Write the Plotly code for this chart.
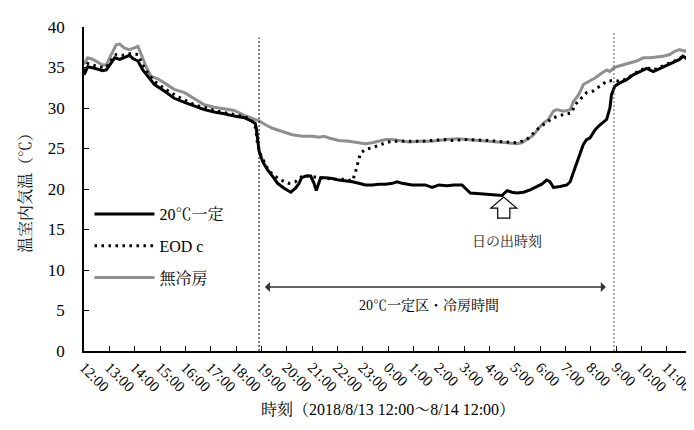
import plotly.graph_objects as go

# ---- data (elapsed hours from 2018/8/13 12:00, temperature °C) ----
tick_labels = ["12:00", "13:00", "14:00", "15:00", "16:00", "17:00", "18:00", "19:00",
               "20:00", "21:00", "22:00", "23:00", "0:00", "1:00", "2:00", "3:00",
               "4:00", "5:00", "6:00", "7:00", "8:00", "9:00", "10:00", "11:00"]

const_h = [0.0, 0.15, 0.42, 0.74, 0.88, 1.07, 1.21, 1.41, 1.6, 1.8, 1.93, 2.13, 2.32, 2.52, 2.78,
           3.17, 3.56, 3.97, 4.36, 4.75, 5.14, 5.54, 5.93, 6.33, 6.66, 6.76, 6.80, 6.85, 6.91,
           7.05, 7.24, 7.44, 7.64, 7.90, 8.16, 8.35, 8.49, 8.59, 8.76, 8.95, 9.08, 9.17, 9.28,
           9.34, 9.54, 9.80, 10.06, 10.33, 10.59, 10.85, 11.11, 11.38, 11.64, 11.90, 12.17,
           12.36, 12.56, 12.95, 13.21, 13.47, 13.74, 14.01, 14.33, 14.59, 14.92, 15.05, 15.25,
           15.64, 16.03, 16.50, 16.70, 16.89, 17.09, 17.35, 17.61, 17.87, 18.07, 18.26, 18.39,
           18.53, 18.80, 19.06, 19.19, 19.38, 19.58, 19.71, 19.84, 19.97, 20.17, 20.36, 20.63,
           20.76, 20.82, 20.95, 21.15, 21.42, 21.68, 21.94, 22.21, 22.47, 22.73, 22.99, 23.25,
           23.51, 23.64, 23.84, 23.98]
const_t = [34.1, 35.1, 34.9, 34.6, 34.7, 35.6, 36.2, 36.0, 36.2, 36.5, 36.1, 35.8, 34.7, 33.9, 32.9,
           32.1, 31.2, 30.7, 30.2, 29.8, 29.5, 29.3, 29.0, 28.8, 28.3, 28.1, 27.5, 25.9, 24.7,
           23.4, 22.4, 21.6, 20.7, 20.1, 19.6, 20.1, 20.7, 21.4, 21.6, 21.6, 20.7, 19.8, 20.9,
           21.4, 21.4, 21.3, 21.1, 21.0, 20.9, 20.7, 20.5, 20.5, 20.6, 20.6, 20.7,
           20.9, 20.7, 20.5, 20.5, 20.5, 20.2, 20.5, 20.4, 20.5, 20.5, 20.1, 19.5,
           19.4, 19.3, 19.2, 19.8, 19.6, 19.5, 19.6, 19.9, 20.3, 20.6, 21.1, 20.9,
           20.2, 20.3, 20.5, 20.9, 22.6, 24.4, 25.5, 26.1, 26.3, 27.3, 27.9, 28.6,
           30.0, 31.6, 32.7, 33.1, 33.5, 34.1, 34.5, 34.9, 34.5, 34.9, 35.3, 35.6,
           36.0, 36.4, 36.0, 36.1]

eod_h = [0.0, 0.15, 0.55, 0.87, 1.07, 1.27, 1.5, 1.8, 2.13, 2.32, 2.52, 2.78, 3.17, 3.7, 4.36,
         5.27, 5.93, 6.33, 6.59, 6.78, 6.85, 6.98, 7.11, 7.24, 7.44, 7.77, 8.09, 8.35, 8.62,
         8.89, 9.28, 9.54, 9.93, 10.33, 10.59, 10.69, 10.74, 10.80, 10.85, 10.91, 11.11, 11.38,
         11.64, 11.90, 12.17, 12.56, 12.95, 13.34, 13.74, 14.27, 14.53, 15.12, 15.90, 16.70,
         17.09, 17.48, 17.87, 18.20, 18.53, 18.93, 19.25, 19.38, 19.58, 19.84, 20.10, 20.36,
         20.63, 20.89, 21.15, 21.42, 21.68, 21.94, 22.21, 22.47, 22.73, 22.99, 23.25, 23.51,
         23.64, 23.84, 23.98]
eod_t = [34.6, 35.5, 35.1, 35.0, 35.9, 36.6, 36.5, 36.7, 36.6, 35.3, 34.3, 33.3, 32.4, 31.4, 30.4,
         29.6, 29.2, 28.9, 28.6, 27.5, 25.5, 24.2, 23.4, 22.6, 21.8, 21.1, 20.7, 20.9, 21.6,
         21.6, 21.4, 21.3, 21.2, 21.2, 21.0, 21.8, 22.4, 23.2, 23.8, 24.4, 24.9, 25.1,
         25.4, 25.7, 25.9, 25.9, 25.9, 25.9, 26.0, 26.1, 26.0, 26.1, 26.0, 25.8,
         25.7, 26.1, 27.3, 28.1, 28.8, 29.2, 29.4, 30.4, 31.0, 31.9, 32.1, 32.7,
         33.3, 33.4, 33.3, 33.6, 34.2, 34.6, 35.0, 34.7, 35.0, 35.4, 35.7, 36.1,
         36.4, 36.1, 36.0]

nocool_h = [0.0, 0.15, 0.35, 0.55, 0.74, 0.87, 1.07, 1.27, 1.41, 1.6, 1.8, 1.99, 2.13, 2.26, 2.45,
            2.65, 2.91, 3.17, 3.56, 3.97, 4.36, 4.75, 5.14, 5.54, 5.93, 6.33, 6.71, 6.91, 7.18,
            7.44, 7.83, 8.22, 8.62, 9.02, 9.28, 9.48, 9.67, 10.06, 10.46, 10.85, 11.11, 11.38,
            11.64, 11.90, 12.17, 12.43, 12.82, 13.21, 13.74, 14.33, 14.72, 15.12, 15.51, 15.90,
            16.29, 16.70, 17.09, 17.28, 17.48, 17.68, 17.81, 17.94, 18.13, 18.33, 18.53, 18.66,
            18.93, 19.19, 19.32, 19.52, 19.71, 19.97, 20.17, 20.43, 20.63, 20.76, 20.89, 21.02,
            21.28, 21.55, 21.81, 22.08, 22.34, 22.60, 22.86, 23.12, 23.32, 23.51, 23.71, 23.91,
            23.98]
nocool_t = [35.4, 36.2, 36.0, 35.6, 35.3, 35.3, 36.6, 37.8, 37.9, 37.4, 37.2, 37.4, 37.6, 36.6, 35.1,
            33.9, 33.6, 33.1, 32.3, 31.9, 31.2, 30.4, 30.1, 29.9, 29.7, 29.1, 28.6, 28.4, 27.9,
            27.5, 27.1, 26.7, 26.5, 26.5, 26.4, 26.5, 26.3, 26.0, 25.9, 25.7, 25.6, 25.7,
            25.9, 26.1, 26.1, 26.0, 25.8, 25.9, 25.9, 26.1, 26.2, 26.1, 26.0, 25.9,
            25.8, 25.7, 25.6, 25.7, 26.1, 26.5, 26.9, 27.5, 28.1, 28.6, 29.6, 29.8,
            29.6, 29.8, 30.8, 31.6, 32.9, 33.3, 33.7, 34.3, 34.7, 34.5, 34.9, 35.1,
            35.3, 35.6, 35.8, 36.2, 36.2, 36.3, 36.4, 36.6, 37.0, 37.2, 37.0, 37.4,
            36.9]

series_names = ["20℃一定", "EOD c", "無冷房"]

# ---- styling ----
FONT = "Liberation Serif, Noto Serif CJK JP, Noto Sans CJK JP, serif"

fig = go.Figure()
fig.add_trace(go.Scatter(x=nocool_h, y=nocool_t, mode="lines", name=series_names[2],
                         line=dict(color="#8f8f8f", width=3), legendgroup="c", legendrank=3))
fig.add_trace(go.Scatter(x=eod_h, y=eod_t, mode="lines", name=series_names[1],
                         line=dict(color="black", width=3, dash="2.5px,4.5px"), legendgroup="b", legendrank=2))
fig.add_trace(go.Scatter(x=const_h, y=const_t, mode="lines", name=series_names[0],
                         line=dict(color="black", width=3), legendgroup="a", legendrank=1))

# vertical dashed lines (cooling period boundaries)
cool_start, cool_end = 6.91, 20.92
fig.add_shape(type="line", xref="x", yref="y", x0=cool_start, x1=cool_start, y0=0, y1=38.7,
              line=dict(color="black", width=1, dash="2px,2px"))
fig.add_shape(type="line", xref="x", yref="y", x0=cool_end, x1=cool_end, y0=0, y1=39.3,
              line=dict(color="#555555", width=1, dash="2px,2px"))

# double-headed arrow
arrow_y = 7.9
fig.add_annotation(x=7.14, y=arrow_y, ax=20.66, ay=arrow_y, xref="x", yref="y", axref="x", ayref="y",
                   text="", showarrow=True, arrowhead=1, startarrowhead=1, arrowside="end+start",
                   arrowsize=1.3, arrowwidth=1.3, arrowcolor="#333333")
fig.add_annotation(x=13.6, y=5.7, xref="x", yref="y", text="20℃一定区・冷房時間", showarrow=False,
                   font=dict(family=FONT, size=14, color="black"))

# hollow up-arrow for sunrise
c, tip, base, bottom, hw, sw = 16.57, 19.0, 17.65, 16.4, 0.51, 0.24
path = (f"M {c},{tip} L {c+hw},{base} L {c+sw},{base} L {c+sw},{bottom} "
        f"L {c-sw},{bottom} L {c-sw},{base} L {c-hw},{base} Z")
fig.add_shape(type="path", path=path, xref="x", yref="y",
              line=dict(color="black", width=1.2), fillcolor="white")
fig.add_annotation(x=16.7, y=13.6, xref="x", yref="y", text="日の出時刻", showarrow=False,
                   font=dict(family=FONT, size=14, color="#222222"))

fig.update_layout(
    width=694, height=430,
    margin=dict(l=76, r=8, t=19, b=87),
    paper_bgcolor="white", plot_bgcolor="white",
    font=dict(family=FONT, size=15, color="black"),
    showlegend=True,
    legend=dict(x=0.009, y=0.475, xanchor="left", yanchor="top", bgcolor="rgba(0,0,0,0)",
                font=dict(family=FONT, size=16), tracegroupgap=8, itemwidth=60,
                traceorder="grouped"),
    xaxis=dict(range=[0, 24], tickmode="array", tickvals=list(range(24)), ticktext=tick_labels,
               tickangle=45, ticks="inside", ticklen=5, tickcolor="black", showline=True,
               linecolor="black", linewidth=1.5, showgrid=False, zeroline=False,
               tickfont=dict(family=FONT, size=15),
               title=dict(text="時刻（2018/8/13 12:00～8/14 12:00）", font=dict(family=FONT, size=16),
                          standoff=10)),
    yaxis=dict(range=[0, 40], tickmode="array", tickvals=list(range(0, 41, 5)),
               ticks="inside", ticklen=5, tickcolor="black", showline=True,
               linecolor="black", linewidth=1.5, showgrid=False, zeroline=False,
               ticklabelstandoff=14,
               tickfont=dict(family=FONT, size=17),
               title=dict(text="温室内気温（℃）", font=dict(family=FONT, size=16), standoff=12)),
)

fig.write_html("out.html")
